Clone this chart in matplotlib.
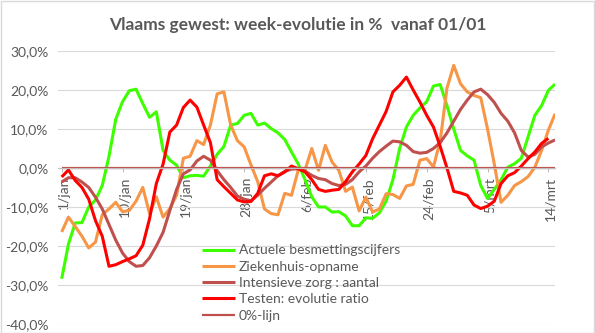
"""
Vlaams gewest: week-evolutie in % vanaf 01/01 (line chart, Excel look).
"""
import matplotlib
matplotlib.use('Agg')
import matplotlib.pyplot as plt
from matplotlib.patches import Rectangle
from matplotlib.transforms import ScaledTranslation
from matplotlib.ticker import FuncFormatter

plt.rcParams['font.family'] = ['Lato', 'DejaVu Sans']

# daily values from 1/jan, in %
green = [
    -28.4, -19.5, -14.1, -14.0, -10.0, -8.2, -4.5, 3.0, 12.5, 17.0,
    19.8, 20.2, 16.5, 13.0, 14.4, 4.5, 2.0, 0.7, -2.5, -2.0,
    -1.9, -2.1, 0.5, 3.5, 5.5, 11.0, 11.4, 13.5, 14.0, 11.0,
    11.5, 10.1, 9.0, 7.3, 4.1, 1.0, -3.0, -7.4, -10.0, -10.0,
    -11.3, -11.2, -12.3, -14.8, -14.8, -12.8, -12.9, -11.5, -8.5, -3.0,
    5.0, 10.5, 13.5, 15.4, 17.0, 21.0, 21.4, 16.0, 10.0, 4.5,
    3.1, 2.0, -4.5, -7.8, -5.5, -3.0, 0.2, 1.1, 2.5, 8.0,
    13.5, 16.0, 19.9, 21.5]
orange = [
    -16.4, -12.6, -15.0, -17.5, -20.5, -19.0, -12.0, -10.5, -8.8, -11.2,
    -10.9, -8.5, -5.0, -11.7, -7.4, -12.6, -10.4, -7.0, 2.5, 3.0,
    7.0, 6.0, 11.0, 19.0, 19.5, 11.0, 7.0, 5.4, 0.8, -3.5,
    -10.5, -11.7, -12.0, -6.5, -7.0, -0.5, -0.5, 5.0, -0.6, 5.8,
    1.5, -0.6, -6.0, -4.9, -11.0, -7.5, -11.3, -10.5, -6.6, -6.8,
    -7.8, -4.6, -4.2, 2.0, 2.4, 0.3, 7.0, 20.5, 26.3, 21.6,
    19.5, 18.6, 18.0, 10.0, 1.0, -8.8, -7.0, -4.5, -3.5, -2.2,
    0.2, 4.5, 9.7, 13.9]
brown = [
    -3.6, -2.5, -2.5, -3.6, -5.0, -7.5, -10.5, -14.5, -18.5, -21.8,
    -24.0, -25.2, -25.0, -23.0, -20.0, -16.5, -10.9, -5.5, -1.5, -0.5,
    1.8, 3.0, 2.0, -0.7, -3.0, -5.0, -7.2, -8.0, -8.4, -7.0,
    -5.2, -3.6, -2.0, -0.9, -0.3, -0.2, -0.8, -1.9, -2.7, -3.0,
    -4.0, -4.5, -4.2, -3.0, -1.0, 0.5, 2.5, 4.2, 5.6, 6.9,
    6.7, 5.8, 4.2, 3.8, 4.0, 5.0, 6.5, 9.0, 12.0, 15.0,
    17.4, 19.5, 20.2, 18.8, 16.8, 14.0, 12.0, 9.0, 4.5, 2.8,
    3.5, 5.4, 6.4, 7.2]
red = [
    -2.3, -0.5, -3.2, -5.0, -8.0, -13.5, -17.5, -25.2, -24.8, -24.0,
    -23.3, -22.5, -19.8, -13.0, -4.0, 1.0, 9.2, 11.0, 15.5, 17.4,
    15.6, 11.0, 6.5, -3.0, -4.8, -6.5, -8.2, -8.7, -8.6, -6.5,
    -2.0, -1.5, -2.0, -1.0, 0.5, -0.2, -1.0, -3.0, -5.5, -6.0,
    -5.7, -5.5, -3.5, -1.0, 1.0, 3.2, 7.5, 11.0, 14.5, 19.5,
    21.2, 23.3, 20.0, 16.9, 13.5, 10.5, 5.5, 0.0, -6.0, -6.4,
    -7.0, -9.5, -10.4, -9.8, -8.5, -4.0, -2.0, -1.2, 0.5, 2.4,
    4.1, 6.3, 7.6]
zero_line = [0.0] * len(green)

tick_labels = ['1/jan', '10/jan', '19/jan', '28/jan', '6/feb',
               '15/feb', '24/feb', '5/mrt', '14/mrt']
tick_step = 9

series = [
    ('Actuele besmettingscijfers', green, '#3DFF00', 2.2),
    ('Ziekenhuis-opname', orange, '#F79646', 2.2),
    ('Intensieve zorg : aantal', brown, '#C0504D', 2.2),
    ('Testen: evolutie ratio', red, '#FF0000', 2.2),
    ('0%-lijn', zero_line, '#C0504D', 1.6),
]

fig = plt.figure(figsize=(5.95, 3.33), dpi=100)
ax = fig.add_axes([0.098, 0.027, 0.835, 0.82])

for label, values, color, lw in series:
    ax.plot(range(len(values)), values, color=color, lw=lw, label=label,
            solid_joinstyle='round', solid_capstyle='butt')

ax.set_xlim(-0.5, 73)
ax.set_ylim(-40, 30)
ax.set_yticks(range(-40, 31, 10))
ax.yaxis.set_major_formatter(FuncFormatter(lambda v, p: f'{v:.1f}%'.replace('.', ',')))
ax.grid(axis='y', color='#D9D9D9', lw=0.8)
ax.set_axisbelow(True)

for side in ['top', 'right', 'left']:
    ax.spines[side].set_visible(False)
ax.spines['bottom'].set_position(('data', 0))
ax.spines['bottom'].set_color('#BFBFBF')
ax.tick_params(axis='x', colors='#BFBFBF', labelcolor='#595959', length=3,
               width=0.8, pad=3.5, labelsize=10, labelrotation=90)
ax.tick_params(axis='y', length=0, pad=7, labelcolor='#595959', labelsize=10)

ax.set_xticks(range(0, tick_step * len(tick_labels), tick_step))
ax.set_xticklabels(tick_labels)
shift = ScaledTranslation(2 / 100, 0, fig.dpi_scale_trans)
for lab in ax.get_xticklabels():
    lab.set_rotation(90)
    lab.set_va('top')
    lab.set_ha('center')
    lab.set_transform(lab.get_transform() + shift)

leg = ax.legend(loc='upper left', bbox_to_anchor=(0.339, 0.266),
                bbox_transform=fig.transFigure, frameon=False, fontsize=10,
                handlelength=2.4, handletextpad=0.25, labelspacing=0.31,
                borderpad=0, borderaxespad=0)
for t in leg.get_texts():
    t.set_color('#595959')

fig.text(0.5, 0.925, 'Vlaams gewest: week-evolutie in %  vanaf 01/01',
         ha='center', va='center', fontsize=12.5, fontweight='bold', color='#595959')
fig.add_artist(Rectangle((0.001, 0.0015), 0.997, 0.996, transform=fig.transFigure,
                         fill=False, ec='#D9D9D9', lw=1))

fig.savefig('out.png', dpi=100)
